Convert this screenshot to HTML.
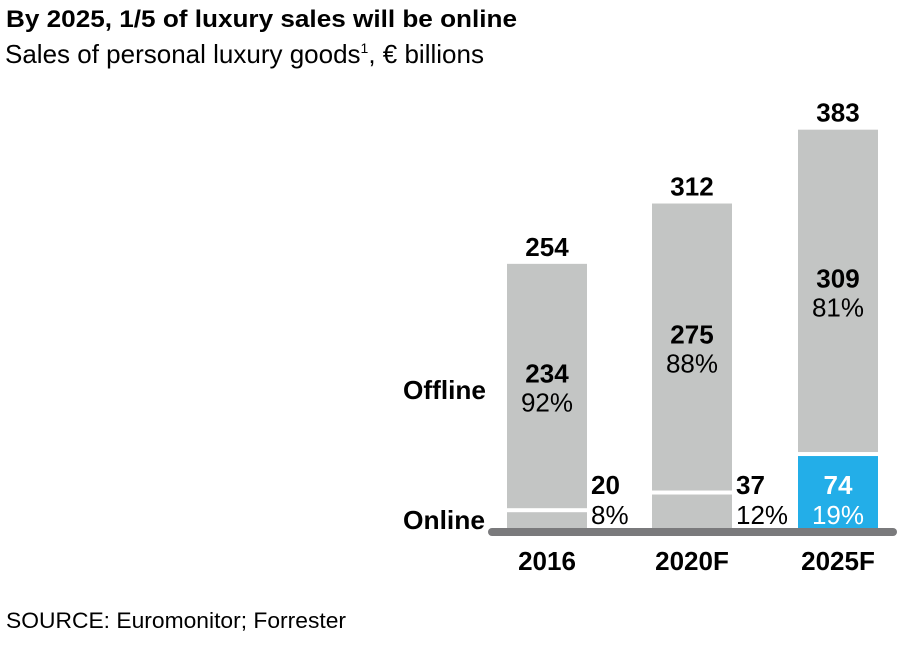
<!DOCTYPE html>
<html><head><meta charset="utf-8"><style>
body{margin:0;width:902px;height:642px;background:#fff;overflow:hidden;font-family:"Liberation Sans",Arial,sans-serif;}
svg text{font-family:"Liberation Sans",Arial,sans-serif;}
</style></head><body>
<svg id="chart" width="902" height="642">
<text x="6" y="27" font-size="24" font-weight="bold" fill="#000" textLength="511" lengthAdjust="spacingAndGlyphs">By 2025, 1/5 of luxury sales will be online</text>
<text x="5" y="63" font-size="26" fill="#000">Sales of personal luxury goods<tspan font-size="14" dy="-10">1</tspan><tspan dy="10">, € billions</tspan></text>
<text x="403" y="399" font-size="26" font-weight="bold" textLength="83" lengthAdjust="spacingAndGlyphs">Offline</text>
<text x="403" y="529" font-size="26" font-weight="bold" textLength="82" lengthAdjust="spacingAndGlyphs">Online</text>
<text x="6" y="628" font-size="22" textLength="340" lengthAdjust="spacingAndGlyphs">SOURCE: Euromonitor; Forrester</text>
<g id="bars"></g>
<line x1="492" y1="532" x2="893" y2="532" stroke="#7a7a7c" stroke-width="8" stroke-linecap="round"/>
</svg>
<script>
const categories=["2016","2020F","2025F"];
const offline=[234,275,309];
const online=[20,37,74];
const offlinePct=["92%","88%","81%"];
const onlinePct=["8%","12%","19%"];
const totals=[254,312,383];
const NS="http://www.w3.org/2000/svg";
const g=document.getElementById("bars");
const base=528, scale=1.04, barX=[507,652,798], barW=80;
function y(v){return base-v*scale;}
function el(tag,attrs,txt){const e=document.createElementNS(NS,tag);for(const k in attrs)e.setAttribute(k,attrs[k]);if(txt!==undefined)e.textContent=txt;g.appendChild(e);return e;}
categories.forEach((c,i)=>{
  const x=barX[i], total=offline[i]+online[i];
  const yb=y(online[i]), yt=y(total);
  const hl=i===2;
  let r=el("rect",{x:x,y:yb+5,width:barW,height:base-yb-5,fill:hl?"#23aee8":"#c3c5c4"});
  
  
  r=el("rect",{x:x,y:yt,width:barW,height:yb+1-yt,fill:"#c3c5c4"});
  
  
  const cx=x+barW/2;
  let t=el("text",{x:cx,y:yt-8,"font-size":26,"font-weight":"bold","text-anchor":"middle"},totals[i]);
  
  
  const my=(yt+yb)/2;
  t=el("text",{x:cx,y:my-3,"font-size":26,"font-weight":"bold","text-anchor":"middle"},offline[i]);
  
  
  t=el("text",{x:cx,y:my+26,"font-size":26,"text-anchor":"middle"},offlinePct[i]);
  
  
  const ox=hl?cx:x+barW+4, anc=hl?"middle":"start", col=hl?"#fff":"#000";
  t=el("text",{x:ox,y:494,"font-size":26,"font-weight":"bold","text-anchor":anc,fill:col},online[i]);
  
  
  t=el("text",{x:ox,y:524,"font-size":26,"text-anchor":anc,fill:col},onlinePct[i]);
  
  
  t=el("text",{x:cx,y:570,"font-size":26,"font-weight":"bold","text-anchor":"middle"},c);
  
  
});
</script>
</body></html>
